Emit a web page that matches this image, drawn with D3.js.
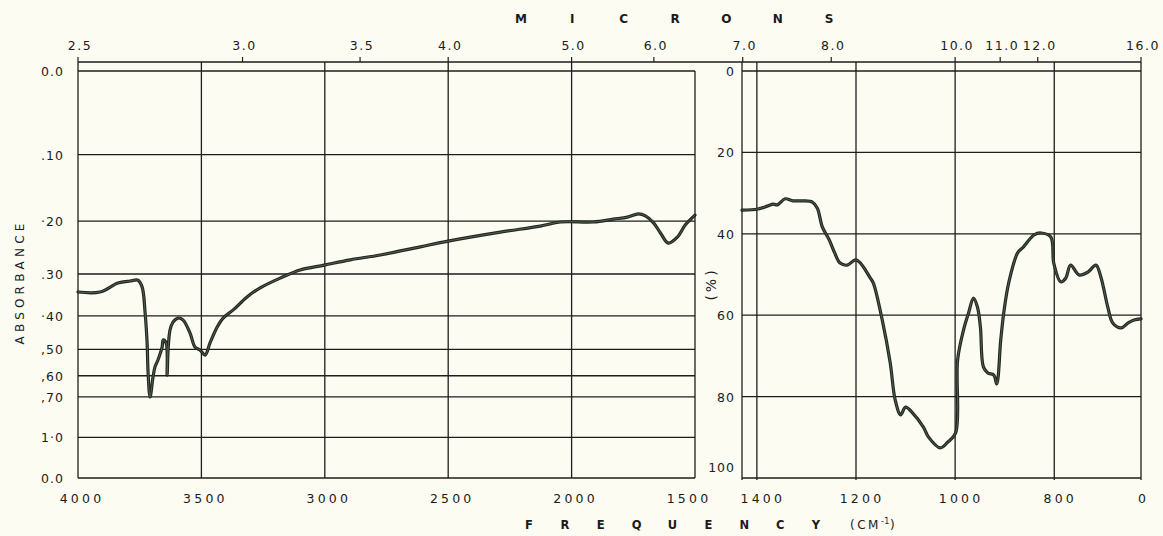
<!DOCTYPE html>
<html>
<head>
<meta charset="utf-8">
<script src="https://cdn.jsdelivr.net/npm/d3@7"></script>
<style>
  body { margin: 0; background: #fcfcf3; }
  svg { display: block; }
  text { font-family: "DejaVu Sans", sans-serif; fill: #1b1b1b; }
</style>
</head>
<body>
<svg id="chart" width="1163" height="536"></svg>
<script>
// Spectrum traces: [wavenumber cm-1, percent (0 = top, 100 = bottom)]
const leftSpectrum = [
  [4000,54.3],[3911,54.3],[3838,52.1],[3789,51.6],[3757,51.4],[3740,53.1],[3728,59.5],
  [3720,66.8],[3716,74.2],[3708,80.1],[3696,75.2],[3688,72.7],[3676,71.0],[3659,67.8],
  [3655,66.1],[3643,66.8],[3639,74.7],[3635,68.6],[3627,63.6],[3615,61.7],[3594,60.7],
  [3574,61.2],[3546,64.4],[3526,67.8],[3505,68.6],[3485,69.8],[3465,66.8],[3436,62.9],
  [3412,60.7],[3371,58.7],[3315,55.5],[3262,53.3],[3181,50.9],[3100,48.9],[3002,47.7],
  [2897,46.4],[2775,45.2],[2613,43.2],[2500,41.8],[2289,39.6],[2127,38.1],[2045,37.1],
  [1912,37.1],[1831,36.4],[1774,35.9],[1729,35.1],[1701,35.6],[1668,37.3],[1640,39.8],
  [1608,42.3],[1571,40.8],[1539,37.8],[1500,35.4]
];
const rightSpectrum = [
  [1430,34.2],[1398,33.9],[1379,33.2],[1367,32.7],[1359,32.9],[1343,31.4],[1327,31.9],
  [1307,31.9],[1288,32.2],[1278,33.7],[1268,38.3],[1254,41.5],[1243,44.7],[1232,47.2],
  [1218,47.7],[1201,46.4],[1191,47.2],[1171,50.9],[1165,52.1],[1147,61.2],[1131,71.7],
  [1121,80.8],[1110,84.5],[1100,82.6],[1086,84.0],[1064,87.5],[1054,89.9],[1030,92.6],
  [1015,91.2],[999,88.9],[995,71.0],[983,63.6],[973,59.5],[963,55.8],[955,58.0],
  [949,62.9],[943,72.7],[934,74.2],[922,74.7],[916,76.9],[908,66.1],[902,59.5],
  [892,52.1],[874,44.7],[862,43.2],[841,40.3],[827,39.8],[807,40.8],[801,47.2],
  [787,51.8],[777,50.9],[767,47.7],[750,50.1],[732,49.4],[716,47.7],[706,50.6],
  [692,58.0],[682,61.9],[665,63.1],[651,61.9],[639,61.2],[625,60.9]
];

// Axis ticks
const leftFreqTicks = [4000, 3500, 3000, 2500, 2000, 1500];
const rightFreqTicks = [1400, 1200, 1000, 800];
const rightEdgeLabel = "0";
const micronTicks = ["2.5","3.0","3.5","4.0","5.0","6.0","7.0","8.0","10.0","11.0","12.0","16.0"];
const absorbanceTicks = [0, 0.1, 0.2, 0.3, 0.4, 0.5, 0.6, 0.7, 1.0];
const absorbanceLabels = ["0.0", ".10", "·20", ".30", "·40", ",50", ",60", ",70", "1·0"];
const bottomAbsLabel = "0.0";
const percentTicks = [0, 20, 40, 60, 80, 100];

const svg = d3.select('#chart');
const ink = '#1e1e1e';

// Scales
const xL = d3.scaleLinear().domain([4000, 1500]).range([78, 695]);
const xR = d3.scaleLinear().domain([1430, 625]).range([742, 1141]);
const y = d3.scaleLinear().domain([0, 100]).range([71, 478]);
const absToPct = a => 100 * (1 - Math.pow(10, -a));
const xAny = wn => wn >= 1500 ? xL(wn) : xR(wn);

const micronAxisY = 62;

// ---- Grid: left panel
const gL = svg.append('g').attr('stroke', ink).attr('stroke-width', 1.3);
absorbanceTicks.concat([Infinity]).forEach(a => {
  const p = a === Infinity ? 100 : absToPct(a);
  gL.append('line').attr('x1', xL(4000)).attr('x2', xL(1500))
    .attr('y1', y(p)).attr('y2', y(p));
});
leftFreqTicks.forEach(f => {
  gL.append('line').attr('x1', xL(f)).attr('x2', xL(f))
    .attr('y1', f === 1500 ? y(0) : micronAxisY).attr('y2', y(100));
});

// ---- Grid: right panel
const gR = svg.append('g').attr('stroke', ink).attr('stroke-width', 1.3);
percentTicks.forEach(p => {
  gR.append('line').attr('x1', xR(1430)).attr('x2', xR(625))
    .attr('y1', y(p)).attr('y2', y(p));
});
[1430].concat(rightFreqTicks, [625]).forEach(f => {
  gR.append('line').attr('x1', xR(f)).attr('x2', xR(f))
    .attr('y1', micronAxisY).attr('y2', y(100) + 2);
});

// ---- Micron axis on top
const gM = svg.append('g');
gM.append('line').attr('x1', xL(4000)).attr('x2', xR(625))
  .attr('y1', micronAxisY).attr('y2', micronAxisY)
  .attr('stroke', ink).attr('stroke-width', 1.3);
micronTicks.forEach((lab, i) => {
  const x = xAny(10000 / +lab);
  gM.append('line').attr('x1', x).attr('x2', x)
    .attr('y1', micronAxisY).attr('y2', micronAxisY - 5)
    .attr('stroke', ink).attr('stroke-width', 1.2);
  gM.append('text').attr('x', x + 2).attr('y', 50)
    .attr('text-anchor', 'middle').attr('font-size', 12.5)
    .attr('letter-spacing', 1.5)
    .attr('fill', i === micronTicks.length - 1 ? '#b8b8b0' : ink)
    .text(lab);
});
const micronWord = 'MICRONS'.split('');
const micronX = d3.scalePoint().domain(d3.range(micronWord.length)).range([521, 829]);
micronWord.forEach((ch, i) => {
  svg.append('text').attr('x', micronX(i)).attr('y', 23)
    .attr('text-anchor', 'middle').attr('font-size', 12).attr('font-weight', 'bold')
    .text(ch);
});

// ---- Left axis labels (absorbance)
absorbanceTicks.forEach((a, i) => {
  svg.append('text').attr('x', 64).attr('y', y(absToPct(a)) + 5)
    .attr('text-anchor', 'end').attr('font-size', 12.5).attr('letter-spacing', 1)
    .text(absorbanceLabels[i]);
});
svg.append('text').attr('x', 64).attr('y', y(100) + 5)
  .attr('text-anchor', 'end').attr('font-size', 12.5).attr('letter-spacing', 1)
  .text(bottomAbsLabel);
svg.append('text')
  .attr('transform', 'translate(24,282) rotate(-90)')
  .attr('text-anchor', 'middle').attr('font-size', 12).attr('letter-spacing', 4.2)
  .text('ABSORBANCE');

// ---- Middle percent labels
percentTicks.forEach(p => {
  svg.append('text').attr('x', 735)
    .attr('y', p === 100 ? y(p) - 6 : y(p) + 5)
    .attr('text-anchor', 'end').attr('font-size', 12.5).attr('letter-spacing', 1)
    .text(p);
});
svg.append('text')
  .attr('transform', 'translate(716,284) rotate(-90)')
  .attr('text-anchor', 'middle').attr('font-size', 14).attr('letter-spacing', 3)
  .text('(%)');

// ---- Bottom frequency labels
const freqY = 503;
leftFreqTicks.forEach(f => {
  svg.append('text').attr('x', xL(f) + (f === 1500 ? -6 : 4)).attr('y', freqY)
    .attr('text-anchor', 'middle').attr('font-size', 12.5).attr('letter-spacing', 3.2)
    .text(f);
});
rightFreqTicks.forEach(f => {
  svg.append('text').attr('x', xR(f) + 6).attr('y', freqY)
    .attr('text-anchor', 'middle').attr('font-size', 12.5).attr('letter-spacing', 3.2)
    .text(f);
});
svg.append('text').attr('x', xR(625) + 1).attr('y', freqY)
  .attr('text-anchor', 'middle').attr('font-size', 12.5)
  .text(rightEdgeLabel);

const freqWord = 'FREQUENCY'.split('');
const freqX = d3.scalePoint().domain(d3.range(freqWord.length)).range([529, 816]);
freqWord.forEach((ch, i) => {
  svg.append('text').attr('x', freqX(i)).attr('y', 529)
    .attr('text-anchor', 'middle').attr('font-size', 11.5).attr('font-weight', 'bold')
    .text(ch);
});
const unit = svg.append('text').attr('x', 850).attr('y', 529)
  .attr('font-size', 12).attr('letter-spacing', 2.5);
unit.append('tspan').text('(CM');
unit.append('tspan').attr('dy', -5).attr('font-size', 8).attr('letter-spacing', 0.5).text('-1');
unit.append('tspan').attr('dy', 5).text(')');

// ---- Spectrum curves
const lineL = d3.line().x(d => xL(d[0])).y(d => y(d[1])).curve(d3.curveCatmullRom.alpha(0.5));
const lineR = d3.line().x(d => xR(d[0])).y(d => y(d[1])).curve(d3.curveCatmullRom.alpha(0.5));
[[leftSpectrum, lineL], [rightSpectrum, lineR]].forEach(([data, gen]) => {
  svg.append('path').datum(data).attr('d', gen)
    .attr('fill', 'none').attr('stroke', '#1f271f').attr('stroke-width', 3.2)
    .attr('stroke-linejoin', 'round').attr('stroke-linecap', 'round');
  svg.append('path').datum(data).attr('d', gen)
    .attr('fill', 'none').attr('stroke', '#5c635a').attr('stroke-width', 0.9)
    .attr('stroke-linejoin', 'round');
});
</script>
</body>
</html>
